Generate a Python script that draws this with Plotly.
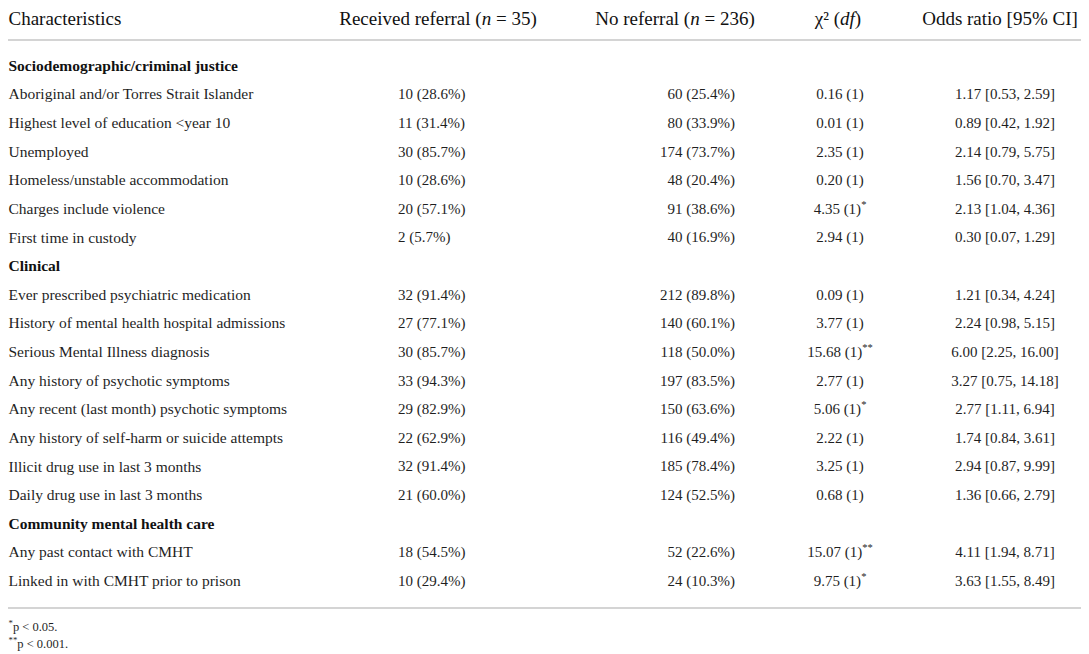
import plotly.graph_objects as go

# ---- data ----
headers = ["Characteristics", "Received referral (<i>n</i> = 35)", "No referral (<i>n</i> = 236)",
           "χ² (<i>df</i>)", "Odds ratio [95% CI]"]

sections = ["Sociodemographic/criminal justice", "Clinical", "Community mental health care"]

characteristics = [
    ["Aboriginal and/or Torres Strait Islander", "Highest level of education &lt;year 10", "Unemployed",
     "Homeless/unstable accommodation", "Charges include violence", "First time in custody"],
    ["Ever prescribed psychiatric medication", "History of mental health hospital admissions",
     "Serious Mental Illness diagnosis", "Any history of psychotic symptoms",
     "Any recent (last month) psychotic symptoms", "Any history of self-harm or suicide attempts",
     "Illicit drug use in last 3 months", "Daily drug use in last 3 months"],
    ["Any past contact with CMHT", "Linked in with CMHT prior to prison"],
]
received = [
    ["10 (28.6%)", "11 (31.4%)", "30 (85.7%)", "10 (28.6%)", "20 (57.1%)", "2 (5.7%)"],
    ["32 (91.4%)", "27 (77.1%)", "30 (85.7%)", "33 (94.3%)", "29 (82.9%)", "22 (62.9%)", "32 (91.4%)", "21 (60.0%)"],
    ["18 (54.5%)", "10 (29.4%)"],
]
no_referral = [
    ["60 (25.4%)", "80 (33.9%)", "174 (73.7%)", "48 (20.4%)", "91 (38.6%)", "40 (16.9%)"],
    ["212 (89.8%)", "140 (60.1%)", "118 (50.0%)", "197 (83.5%)", "150 (63.6%)", "116 (49.4%)", "185 (78.4%)", "124 (52.5%)"],
    ["52 (22.6%)", "24 (10.3%)"],
]
chi_sq = [
    ["0.16 (1)", "0.01 (1)", "2.35 (1)", "0.20 (1)", "4.35 (1)<sup>*</sup>", "2.94 (1)"],
    ["0.09 (1)", "3.77 (1)", "15.68 (1)<sup>**</sup>", "2.77 (1)", "5.06 (1)<sup>*</sup>", "2.22 (1)", "3.25 (1)", "0.68 (1)"],
    ["15.07 (1)<sup>**</sup>", "9.75 (1)<sup>*</sup>"],
]
odds_ratio = [
    ["1.17 [0.53, 2.59]", "0.89 [0.42, 1.92]", "2.14 [0.79, 5.75]", "1.56 [0.70, 3.47]", "2.13 [1.04, 4.36]", "0.30 [0.07, 1.29]"],
    ["1.21 [0.34, 4.24]", "2.24 [0.98, 5.15]", "6.00 [2.25, 16.00]", "3.27 [0.75, 14.18]", "2.77 [1.11, 6.94]",
     "1.74 [0.84, 3.61]", "2.94 [0.87, 9.99]", "1.36 [0.66, 2.79]"],
    ["4.11 [1.94, 8.71]", "3.63 [1.55, 8.49]"],
]
footnotes = ["<sup>*</sup>p &lt; 0.05.", "<sup>**</sup>p &lt; 0.001."]

# ---- layout constants (reference pixel coordinates) ----
W, H = 1089, 654
OFF = 8  # page body margin: the figure starts at (8, 8) in the window
FONT = "Liberation Serif"
TXT = "#1f1f1f"
ROW0, ROWH = 67, 28.62
HEAD_Y = 20
LINES_Y = (40, 608)
BODY_SIZE, LABEL_SIZE, HEAD_SIZE = 15, 15.5, 19
LEFT = OFF + 0.5
col_x = [LEFT, 398, 735, 840, 1005]
col_pos = ["middle right", "middle right", "middle left", "middle center", "middle center"]
col_size = [LABEL_SIZE, BODY_SIZE, BODY_SIZE, BODY_SIZE, BODY_SIZE]
head_x = [LEFT, 438, 675, 838, 1000]
head_pos = ["middle right", "middle center", "middle center", "middle center", "middle center"]

# build rows
data_rows, data_y, sec_y = [], [], []
k = 0
for s, chars, r, n, c, o in zip(sections, characteristics, received, no_referral, chi_sq, odds_ratio):
    sec_y.append(ROW0 + k * ROWH)
    k += 1
    for vals in zip(chars, r, n, c, o):
        data_rows.append(vals)
        data_y.append(ROW0 + k * ROWH)
        k += 1

fig = go.Figure()
fig.add_trace(go.Scatter(
    x=[LEFT] * len(sections), y=sec_y, mode="text",
    text=["<b>" + s + "</b>" for s in sections], textposition="middle right",
    textfont=dict(family=FONT, size=LABEL_SIZE, color="#111"),
    hoverinfo="skip", showlegend=False))
for ci in range(5):
    fig.add_trace(go.Scatter(
        x=[col_x[ci]] * len(data_rows), y=data_y, mode="text",
        text=[r[ci] for r in data_rows], textposition=col_pos[ci],
        textfont=dict(family=FONT, size=col_size[ci], color=TXT),
        hoverinfo="skip", showlegend=False))
    fig.add_trace(go.Scatter(
        x=[head_x[ci]], y=[HEAD_Y], mode="text", text=[headers[ci]],
        textposition=head_pos[ci], textfont=dict(family=FONT, size=HEAD_SIZE, color="#111"),
        hoverinfo="skip", showlegend=False))

fig.add_trace(go.Scatter(
    x=[LEFT, LEFT], y=[628, 645], mode="text", text=footnotes, textposition="middle right",
    textfont=dict(family=FONT, size=12.5, color=TXT),
    hoverinfo="skip", showlegend=False))

for yl in LINES_Y:
    fig.add_shape(type="line", xref="x", yref="y", x0=OFF, x1=1086, y0=yl, y1=yl,
                  line=dict(color="#d4d4d4", width=2))

fig.update_layout(
    width=W - OFF, height=H - OFF, margin=dict(l=0, r=0, t=0, b=0),
    paper_bgcolor="white", plot_bgcolor="white",
    xaxis=dict(range=[OFF, W], visible=False, fixedrange=True),
    yaxis=dict(range=[H, OFF], visible=False, fixedrange=True),
)
fig.write_html("out.html", config={"displayModeBar": False})
